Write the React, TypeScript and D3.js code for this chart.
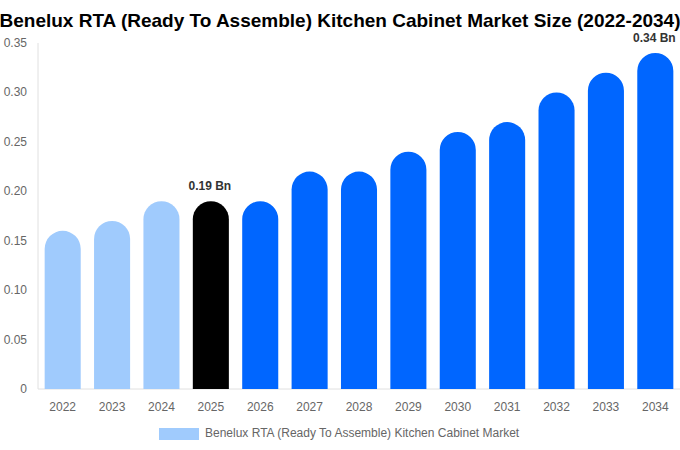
import * as d3 from 'd3';
import { useEffect, useRef } from 'react';

const years = ['2022', '2023', '2024', '2025', '2026', '2027', '2028', '2029', '2030', '2031', '2032', '2033', '2034'];
const values = [0.16, 0.17, 0.19, 0.19, 0.19, 0.22, 0.22, 0.24, 0.26, 0.27, 0.3, 0.32, 0.34];
const yTicks = [0, 0.05, 0.1, 0.15, 0.2, 0.25, 0.3, 0.35];
const labelledYears = ['2025', '2034'];
const seriesName = 'Benelux RTA (Ready To Assemble) Kitchen Cabinet Market';
const title = 'Benelux RTA (Ready To Assemble) Kitchen Cabinet Market Size (2022-2034)';

export default function App() {
    const chartRef = useRef(null);

    useEffect(() => {
        const width = 680;
        const height = 450;
        const margin = { top: 43, right: 0, bottom: 61, left: 38 };
        const font = '"Liberation Sans", Arial, sans-serif';

        const x = d3
            .scaleBand()
            .domain(years)
            .range([margin.left, width - margin.right])
            .paddingInner(0.27)
            .paddingOuter(0.135);

        const y = d3
            .scaleLinear()
            .domain([0, 0.35])
            .range([height - margin.bottom, margin.top]);

        const svg = d3
            .select(chartRef.current)
            .append('svg')
            .attr('width', width)
            .attr('height', height)
            .style('position', 'absolute')
            .style('left', 0)
            .style('top', 0)
            .style('font-family', font);

        // Title
        svg
            .append('text')
            .attr('x', width / 2)
            .attr('y', 27)
            .attr('text-anchor', 'middle')
            .style('font-size', '19px')
            .style('font-weight', 'bold')
            .style('fill', '#000')
            .text(title);

        // Axis lines
        svg
            .append('line')
            .attr('x1', margin.left)
            .attr('x2', margin.left)
            .attr('y1', margin.top)
            .attr('y2', y(0))
            .attr('stroke', '#e0e0e0');

        svg
            .append('line')
            .attr('x1', margin.left)
            .attr('x2', width - margin.right)
            .attr('y1', y(0))
            .attr('y2', y(0))
            .attr('stroke', '#e0e0e0');

        // Y tick labels
        svg
            .selectAll('.ytick')
            .data(yTicks)
            .enter()
            .append('text')
            .attr('x', 27)
            .attr('y', (d) => y(d) + 4)
            .attr('text-anchor', 'end')
            .style('font-size', '12px')
            .style('fill', '#666')
            .text((d) => (d === 0 ? '0' : d.toFixed(2)));

        // X tick labels
        svg
            .selectAll('.xtick')
            .data(years)
            .enter()
            .append('text')
            .attr('x', (d) => x(d) + x.bandwidth() / 2)
            .attr('y', y(0) + 22)
            .attr('text-anchor', 'middle')
            .style('font-size', '12px')
            .style('fill', '#666')
            .text((d) => d);

        const color = (year) => {
            if (+year < 2025) return '#a0cbfd';
            if (+year === 2025) return '#000000';
            return '#0066ff';
        };

        // Bars with rounded tops
        const bw = x.bandwidth();
        const r = bw / 2;
        svg
            .selectAll('.bar')
            .data(years.map((yr, i) => ({ year: yr, value: values[i] })))
            .enter()
            .append('path')
            .attr('d', (d) => {
                const x0 = x(d.year);
                const top = y(d.value);
                const bottom = y(0);
                return `M${x0},${bottom}L${x0},${top + r}A${r},${r} 0 0 1 ${x0 + bw},${top + r}L${x0 + bw},${bottom}Z`;
            })
            .attr('fill', (d) => color(d.year));

        // Value labels
        svg
            .selectAll('.vlabel')
            .data(years.map((yr, i) => ({ year: yr, value: values[i] })).filter((d) => labelledYears.includes(d.year)))
            .enter()
            .append('text')
            .attr('x', (d) => x(d.year) + bw / 2 - 1)
            .attr('y', (d) => y(d.value) - 11)
            .attr('text-anchor', 'middle')
            .style('font-size', '12px')
            .style('font-weight', 'bold')
            .style('fill', '#333')
            .text((d) => `${d.value.toFixed(2)} Bn`);

        // Legend
        svg
            .append('rect')
            .attr('x', 159)
            .attr('y', 428)
            .attr('width', 40)
            .attr('height', 12)
            .attr('fill', '#a0cbfd');

        svg
            .append('text')
            .attr('x', 205)
            .attr('y', 437)
            .style('font-size', '12px')
            .style('fill', '#666')
            .text(seriesName);

        return () => {
            d3.select(chartRef.current).selectAll('*').remove();
        };
    }, []);

    return <div ref={chartRef}></div>;
}
